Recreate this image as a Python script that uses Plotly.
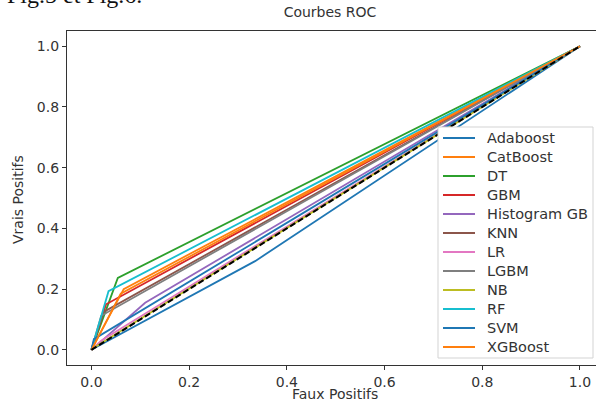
import plotly.graph_objects as go

# ROC curves: each model has (0,0) -> (fpr, tpr) -> (1,1)
models = ["Adaboost", "CatBoost", "DT", "GBM", "Histogram GB", "KNN",
          "LR", "LGBM", "NB", "RF", "SVM", "XGBoost"]
fpr_knee = [0.335, 0.066, 0.054, 0.030, 0.110, 0.025, 0.020, 0.020, 0.010, 0.035, 0.005, 0.060]
tpr_knee = [0.292, 0.200, 0.237, 0.150, 0.155, 0.125, 0.030, 0.112, 0.012, 0.193, 0.035, 0.185]
colors = ["#1f77b4", "#ff7f0e", "#2ca02c", "#d62728", "#9467bd", "#8c564b",
          "#e377c2", "#7f7f7f", "#bcbd22", "#17becf", "#1f77b4", "#ff7f0e"]
x_ticks = [0.0, 0.2, 0.4, 0.6, 0.8, 1.0]
y_ticks = [0.0, 0.2, 0.4, 0.6, 0.8, 1.0]

W, H = 596, 402
ML, MR, MT, MB = 67, 0, 31, 37
plot_w = W - ML - MR
plot_h = H - MT - MB


def px(xp):  # pixel -> paper x
    return (xp - ML) / plot_w


def py(yp):  # pixel -> paper y
    return (H - MB - yp) / plot_h


fig = go.Figure()
for name, fx, ty, c in zip(models, fpr_knee, tpr_knee, colors):
    fig.add_trace(go.Scatter(x=[0, fx, 1], y=[0, ty, 1], mode="lines", name=name,
                             line=dict(color=c, width=1.8)))
fig.add_trace(go.Scatter(x=[0, 1], y=[0, 1], mode="lines", showlegend=False,
                         line=dict(color="black", width=2, dash="6px,3px")))

axis_common = dict(showgrid=False, zeroline=False, ticks="outside", ticklen=4,
                   tickwidth=1.2, tickcolor="#333", linecolor="#333", linewidth=1.3,
                   showline=True, tickformat=".1f",
                   tickfont=dict(family="DejaVu Sans", size=14, color="#333"))

fig.update_xaxes(range=[-0.05, 1.0328], tickvals=x_ticks, mirror=True, **axis_common)
fig.update_yaxes(range=[-0.05, 1.05], tickvals=y_ticks, mirror=False, **axis_common)

# manual legend (matplotlib-style)
shapes = [dict(type="rect", xref="paper", yref="paper",
               x0=px(438), x1=px(593), y0=py(127), y1=py(358),
               fillcolor="white", line=dict(color="#d3d3d3", width=1), layer="above")]
annotations = []
for i, (name, c) in enumerate(zip(models, colors)):
    yc = 138 + 19 * i
    shapes.append(dict(type="line", xref="paper", yref="paper",
                       x0=px(443), x1=px(475), y0=py(yc), y1=py(yc),
                       line=dict(color=c, width=2), layer="above"))
    annotations.append(dict(text=name, xref="paper", yref="paper",
                            x=px(485), y=py(yc), xanchor="left", yanchor="middle",
                            showarrow=False,
                            font=dict(family="DejaVu Sans", size=14.5, color="#333")))

annotations += [
    dict(text="Faux Positifs", xref="paper", yref="paper",
         x=px(335), y=py(394), xanchor="center", yanchor="middle", showarrow=False,
         font=dict(family="DejaVu Sans", size=14, color="#333")),
    dict(text="Vrais Positifs", xref="paper", yref="paper",
         x=px(18), y=py(200), xanchor="center", yanchor="middle", showarrow=False,
         textangle=-90, font=dict(family="DejaVu Sans", size=14, color="#333")),
    dict(text="Fig.5 et Fig.6.", xref="paper", yref="paper",
         x=px(5), y=py(-5), xanchor="left", yanchor="middle", showarrow=False,
         font=dict(family="Liberation Serif", size=24, color="#111")),
]

fig.update_layout(
    width=W, height=H,
    margin=dict(l=ML, r=MR, t=MT, b=MB),
    paper_bgcolor="white", plot_bgcolor="white",
    showlegend=False,
    title=dict(text="Courbes ROC", x=330 / W, xanchor="center", xref="container",
               y=1 - 12 / H, yanchor="middle", yref="container",
               font=dict(family="DejaVu Sans", size=14, color="#333")),
    shapes=shapes,
    annotations=annotations,
)

fig.write_html("out.html", config={"displayModeBar": False},
               post_script="document.body.style.margin='0';document.body.style.overflow='hidden';")
